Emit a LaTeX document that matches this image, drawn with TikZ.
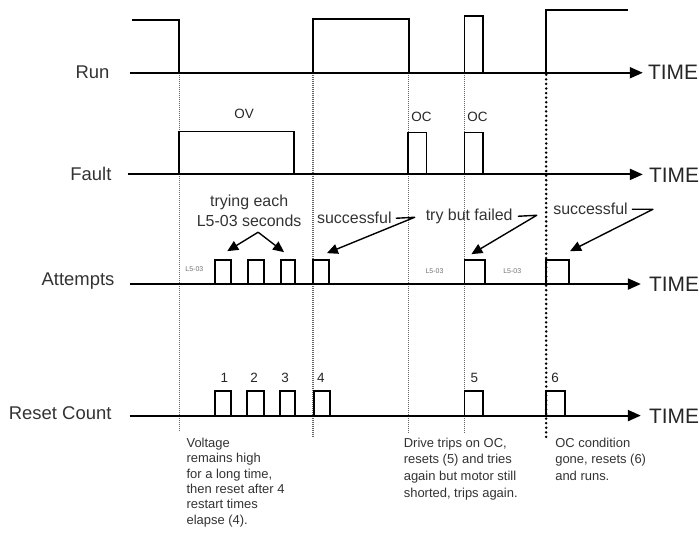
\documentclass[tikz,border=0pt]{standalone}
\usepackage{fontspec}
\setmainfont{Liberation Sans}
\usetikzlibrary{arrows.meta}
\begin{document}
\begin{tikzpicture}[x=1pt,y=-1pt,
  sig/.style={line width=1.8pt, line join=miter},
  axis/.style={line width=2pt, -{Triangle[length=13pt,width=11pt]}},
  guide/.style={black!60, line width=1.3pt, dash pattern=on 1pt off 1pt},
  guidebold/.style={black, line width=2.8pt, line cap=round, dash pattern=on 0pt off 4.6pt},
  lbl/.style={font=\fontsize{18.5}{20}\selectfont, text=black!80, anchor=east, inner sep=0},
  timelbl/.style={font=\fontsize{21}{22}\selectfont, text=black!85, anchor=west, inner sep=0},
  note/.style={font=\fontsize{16}{17}\selectfont, text=black!80, inner sep=0},
  tinylbl/.style={font=\fontsize{7}{8}\selectfont, text=black!55, inner sep=0},
  num/.style={font=\fontsize{13.5}{14}\selectfont, text=black!85, inner sep=0},
  para/.style={font=\fontsize{13}{15.5}\selectfont, text=black!80, align=left, anchor=north west, inner sep=0},
  callout/.style={line width=1.4pt, line join=round, -{Triangle[length=11pt,width=10pt]}}
]
\fill[white] (0,0) rectangle (699,538);

% guide lines
\draw[guide] (180,73) -- (180,433);
\draw[guide] (314,73) -- (314,438);
\draw[guide] (410,73) -- (410,435);
\draw[guide] (466,73) -- (466,435);
\draw[guidebold] (548,75) -- (548,440);

% Run
\node[lbl] (run) at (110,72) {Run};
\draw[axis] (130,73) -- (645,73);
\node[timelbl] (t1) at (650,73) {TIME};
\draw[sig] (132,20) -- (180,20) -- (180,73);
\draw[sig] (314,73) -- (314,19) -- (410,19) -- (410,73);
\draw[sig] (466,73) -- (466,16) -- (485,16) -- (485,73);
\draw[sig] (548,73) -- (548,10) -- (630,10);

% Fault
\node[lbl] (fault) at (112,174) {Fault};
\draw[axis] (128,175) -- (645,175);
\node[timelbl] (t2) at (651,176) {TIME};
\draw[sig] (180,175) -- (180,132) -- (295,132) -- (295,175);
\draw[sig] (409,175) -- (409,133) -- (428,133) -- (428,175);
\draw[sig] (466,175) -- (466,133) -- (485,133) -- (485,175);
\node[num] (ov) at (245,114) {OV};
\node[num] (oc1) at (423,117) {OC};
\node[num] (oc2) at (479,117) {OC};

% Attempts
\node[lbl] (att) at (115,282) {Attempts};
\draw[axis] (130,285) -- (643,285);
\node[timelbl] (t3) at (651,285) {TIME};
\foreach \a/\b in {216/232,249/265,282/296,314/330,466/487,548/571}
  \draw[sig] (\a,285) -- (\a,261) -- (\b,261) -- (\b,285);
\node[tinylbl] (la) at (195,270) {L5-03};
\node[tinylbl] (lb) at (436,272) {L5-03};
\node[tinylbl] (lc) at (514,272) {L5-03};

% Reset Count
\node[lbl] (rc) at (112,415) {Reset Count};
\draw[axis] (130,417) -- (643,417);
\node[timelbl] (t4) at (651,418) {TIME};
\foreach \a/\b in {216/232,248/265,281/296,315/331,466/485,548/567}
  \draw[sig] (\a,417) -- (\a,392) -- (\b,392) -- (\b,417);
\node[num] (n1) at (225,379) {1};
\node[num] (n2) at (255,379) {2};
\node[num] (n3) at (286,379) {3};
\node[num] (n4) at (322,379) {4};
\node[num] (n5) at (476,379) {5};
\node[num] (n6) at (557,379) {6};

% callouts
\node[note] (try) at (250,203) {trying each};
\node[note] (secs) at (250,222) {L5-03 seconds};
\coordinate (peak) at (259,233);
\coordinate (p1) at (228,252);
\coordinate (p3) at (285,253);
\draw[callout] (peak) -- (p1);
\draw[callout] (peak) -- (p3);

\node[note, anchor=west] (succ1) at (318,219) {successful};
\coordinate (s1) at (328,254);
\draw[callout] ([xshift=4pt]succ1.east) -- ++(19,-1) -- (s1);

\node[note, anchor=west] (fail) at (427,217) {try but failed};
\coordinate (f1) at (473,255);
\draw[callout] ([xshift=5pt]fail.east) -- ++(19,-1) -- (f1);

\node[note, anchor=west] (succ2) at (555,210) {successful};
\coordinate (s2) at (572,252);
\draw[callout] ([xshift=4pt]succ2.east) -- ++(21,0) -- (s2);

% explanations
\node[para] (v) at (187,439) {Voltage\\remains high\\for a long time,\\then reset after 4\\restart times\\elapse (4).};
\node[para, font=\fontsize{13}{16.7}\selectfont] (d) at (405,439) {Drive trips on OC,\\resets (5) and tries\\again but motor still\\shorted, trips again.};
\node[para, font=\fontsize{13}{16.7}\selectfont] (o) at (557,439) {OC condition\\gone, resets (6)\\and runs.};
\end{tikzpicture}
\end{document}
